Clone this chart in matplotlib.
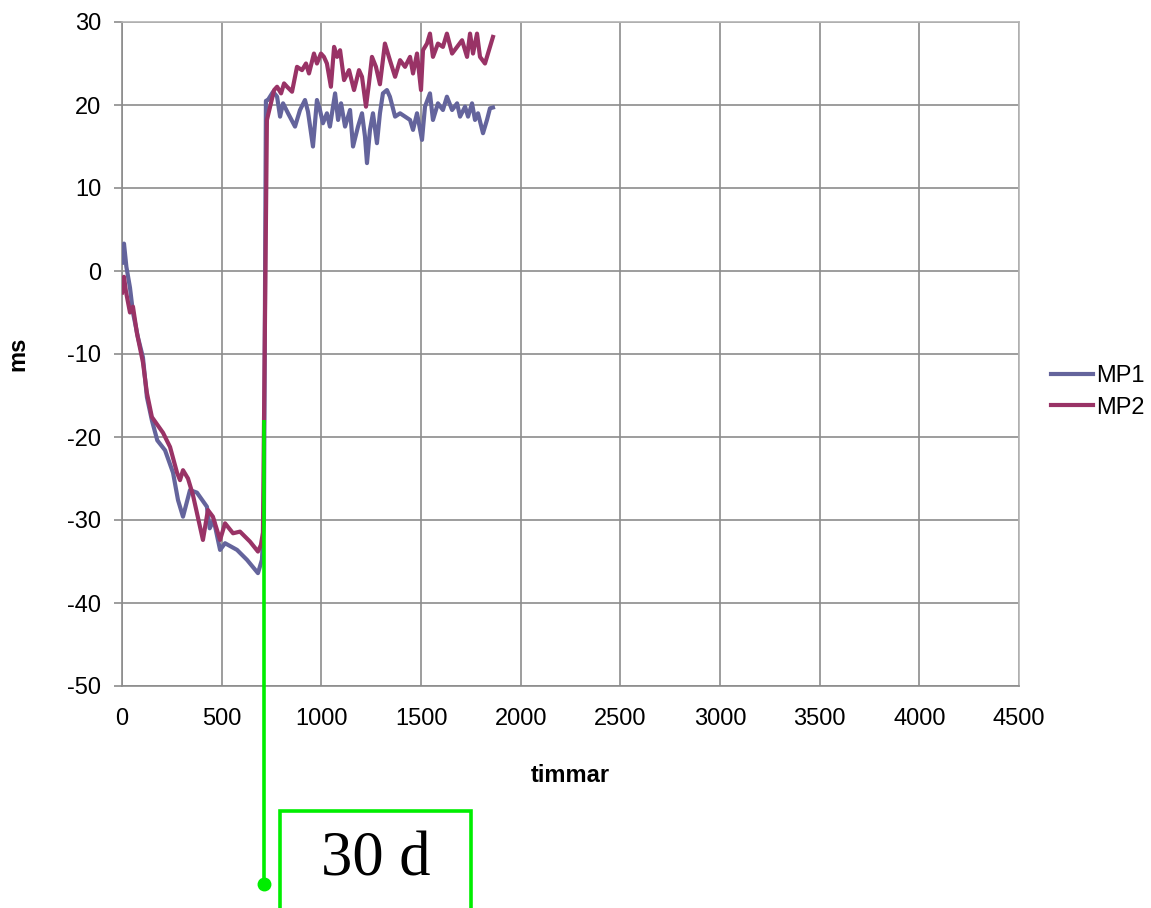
import matplotlib
matplotlib.use("Agg")
import matplotlib.pyplot as plt
from matplotlib.patches import Rectangle

plt.rcParams['font.family'] = ['Liberation Sans', 'DejaVu Sans']
plt.rcParams['axes.unicode_minus'] = False

# ---- data ----
t_mp1 = [0, 10, 22, 40, 55, 80, 105, 125, 150, 177, 216, 256, 281, 306, 341, 376, 426, 440, 460,
         492, 517, 577, 627, 682, 702, 712, 722, 732, 758, 778, 793, 808, 833, 868, 893, 918, 933,
         958, 978, 993, 1008, 1028, 1043, 1069, 1084, 1099, 1119, 1144, 1159, 1184, 1204, 1219,
         1229, 1244, 1259, 1279, 1294, 1309, 1329, 1344, 1370, 1395, 1420, 1445, 1460, 1480, 1505,
         1520, 1545, 1560, 1585, 1610, 1630, 1656, 1681, 1696, 1721, 1736, 1756, 1771, 1786, 1811,
         1831, 1846, 1861]
mp1 = [1.0, 3.3, 0.5, -2.0, -5.0, -8.0, -10.4, -15.2, -18.0, -20.4, -21.6, -24.3, -27.6, -29.6,
       -26.4, -26.7, -28.4, -31.0, -30.0, -33.6, -32.8, -33.6, -34.8, -36.4, -34.8, -30.0, 20.5,
       20.6, 21.6, 21.0, 18.6, 20.2, 19.0, 17.4, 19.4, 20.6, 19.2, 15.0, 20.6, 19.4, 17.8, 19.0,
       17.4, 21.4, 18.2, 20.2, 17.4, 19.4, 15.0, 17.4, 19.0, 16.2, 13.0, 17.0, 19.0, 15.4, 19.0,
       21.4, 21.8, 21.0, 18.6, 19.0, 18.6, 18.2, 17.0, 19.0, 15.8, 19.8, 21.4, 18.2, 20.2, 19.4,
       21.0, 19.4, 20.2, 18.6, 19.8, 18.6, 20.2, 18.2, 19.0, 16.6, 18.2, 19.6, 19.7]

t_mp2 = [0, 10, 20, 40, 55, 75, 105, 125, 150, 206, 241, 276, 291, 306, 331, 356, 406, 431, 456,
         492, 517, 557, 592, 642, 682, 697, 707, 727, 747, 763, 778, 798, 813, 828, 853, 878, 903,
         923, 938, 963, 978, 998, 1013, 1028, 1048, 1064, 1079, 1094, 1114, 1139, 1164, 1189, 1204,
         1224, 1239, 1254, 1274, 1294, 1319, 1344, 1370, 1395, 1420, 1445, 1460, 1480, 1500, 1510,
         1530, 1545, 1560, 1585, 1610, 1630, 1656, 1681, 1706, 1731, 1746, 1761, 1781, 1796, 1821,
         1836, 1861]
mp2 = [-2.6, -0.7, -2.5, -5.0, -4.3, -7.5, -11.0, -14.7, -17.6, -19.5, -21.2, -24.3, -25.2, -24.0,
       -25.0, -27.0, -32.4, -28.8, -29.6, -32.4, -30.4, -31.6, -31.4, -32.6, -33.8, -33.0, -31.5,
       18.2, 20.2, 21.8, 22.2, 21.4, 22.6, 22.2, 21.6, 24.6, 24.2, 25.0, 23.8, 26.2, 25.0, 26.2,
       25.8, 25.0, 22.2, 27.0, 25.8, 26.6, 23.0, 24.2, 21.8, 24.2, 23.4, 19.8, 22.6, 25.8, 24.6,
       22.5, 27.4, 25.4, 23.4, 25.4, 24.6, 25.8, 23.8, 26.2, 21.8, 26.6, 27.4, 28.6, 25.8, 27.4,
       27.0, 28.6, 26.2, 27.0, 27.8, 25.8, 28.6, 26.2, 28.6, 25.8, 25.0, 26.2, 28.2]

x_ticks = [0, 500, 1000, 1500, 2000, 2500, 3000, 3500, 4000, 4500]
y_ticks = [-50, -40, -30, -20, -10, 0, 10, 20, 30]
marker_t = 712      # annotated time (hours)
marker_top = -18
annot_text = "30 d"

# ---- figure ----
W, H = 1151, 908
fig = plt.figure(figsize=(W / 100, H / 100), dpi=100)
ax = fig.add_axes([122 / W, 1 - 686 / H, (1019 - 122) / W, (686 - 22) / H])

c1 = '#64649c'
c2 = '#993366'
ax.plot(t_mp1, mp1, color=c1, lw=3.0, label='MP1', solid_joinstyle='round', zorder=3)
ax.plot(t_mp2, mp2, color=c2, lw=3.0, label='MP2', solid_joinstyle='round', zorder=4)

ax.set_xlim(0, 4500)
ax.set_ylim(-50, 30)
ax.set_xticks(x_ticks)
ax.set_yticks(y_ticks)
ax.grid(True, color='#8c8c8c', lw=1.2)
ax.set_axisbelow(True)
for s in ['left', 'bottom']:
    ax.spines[s].set_color('#8c8c8c')
    ax.spines[s].set_linewidth(1.2)
for s in ['top', 'right']:
    ax.spines[s].set_color('#b4b4b4')
    ax.spines[s].set_linewidth(1.2)

ax.tick_params(axis='y', length=6, width=1.2, color='#8c8c8c', pad=9, labelsize=17)
ax.tick_params(axis='x', length=0, pad=16, labelsize=17)
ax.set_xlabel('timmar', fontsize=17, fontweight='bold', labelpad=24)
ax.set_ylabel('ms', fontsize=17, fontweight='bold', labelpad=27)

leg = ax.legend(loc='center left', bbox_to_anchor=(1.036, 0.443), frameon=False,
                fontsize=17, handlelength=1.75, handletextpad=0.15, labelspacing=0.4,
                borderaxespad=0, borderpad=0)

# ---- green annotation ----
green = '#00ee00'
ax.plot([marker_t, marker_t], [marker_top, -73.9], color=green, lw=2.6,
        clip_on=False, zorder=5, solid_capstyle='butt')
ax.plot([marker_t], [-73.9], 'o', color=green, ms=9, clip_on=False, zorder=5)

rect = Rectangle((280 / W, 1 - 915 / H), (471 - 280) / W, (915 - 811) / H,
                 transform=fig.transFigure, fill=False, edgecolor=green, lw=2.6)
fig.patches.append(rect)
fig.text(376 / W, 1 - 860 / H, annot_text, ha='center', va='center',
         fontsize=45, family='Liberation Serif', color='black')

fig.savefig('out.png', dpi=100)
